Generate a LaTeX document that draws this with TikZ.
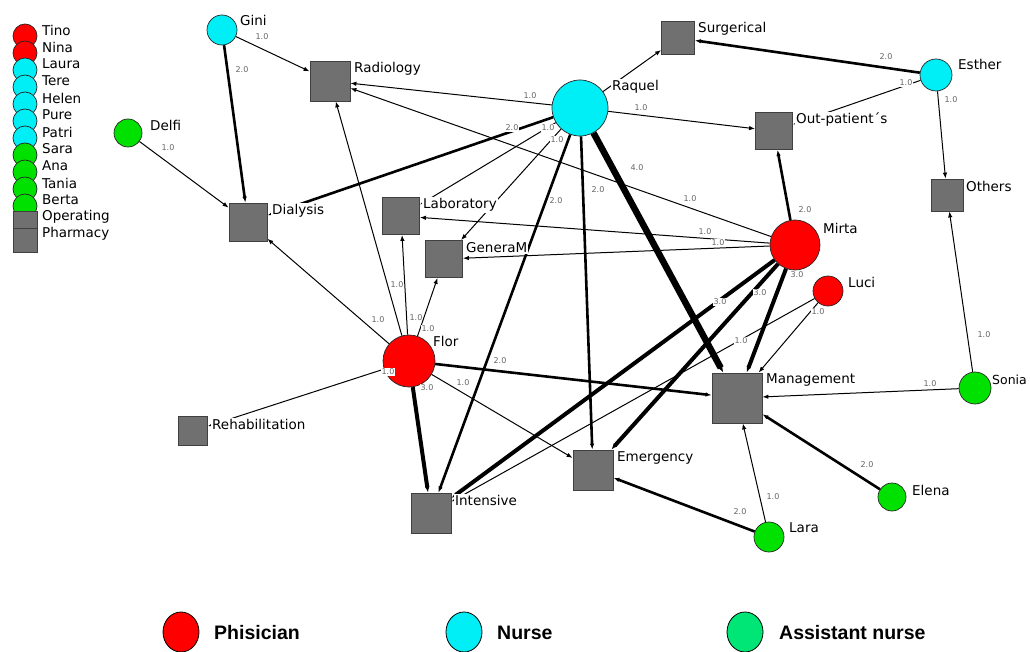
\documentclass[tikz,border=0pt]{standalone}
\usepackage{fontspec}
\setmainfont{DejaVu Sans}
\newfontfamily\keyfont{Liberation Sans}
\usetikzlibrary{arrows.meta,shapes.geometric}

\definecolor{physred}{RGB}{255,0,0}
\definecolor{nursecyan}{RGB}{0,238,245}
\definecolor{auxgreen}{RGB}{0,225,0}
\definecolor{keygreen}{RGB}{0,230,118}
\definecolor{unitgray}{RGB}{112,112,112}

\tikzset{
  person/.style={circle,draw=black!85,line width=0.7pt,inner sep=0pt,minimum size=#1pt},
  phys/.style={person=#1,fill=physred},
  nurse/.style={person=#1,fill=nursecyan},
  aux/.style={person=#1,fill=auxgreen},
  unit/.style={rectangle,draw=black!75,line width=0.8pt,fill=unitgray,inner sep=0pt,minimum size=#1pt},
  lbl/.style={anchor=west,fill=white,inner sep=1pt,font=\fontsize{13.5}{15}\selectfont},
  leglbl/.style={anchor=west,inner sep=0pt,font=\fontsize{13.5}{15}\selectfont},
  keylbl/.style={anchor=west,inner sep=0pt,font=\keyfont\bfseries\fontsize{19.5}{21}\selectfont},
  wt/.style={fill=white,inner sep=0.6pt,text=black!60,font=\fontsize{8}{9}\selectfont},
  wone/.style={->,line width=1pt},
  wtwo/.style={->,line width=2.6pt},
  wthree/.style={->,line width=4pt},
  wfour/.style={->,line width=6.5pt}
}

\begin{document}
\begin{tikzpicture}[x=1pt,y=-1pt,>={Latex[length=6pt,width=4.5pt]}]
  \useasboundingbox (0,0) rectangle (1030,652);

  % staff
  \node[nurse=30] (gini)   at (222,30)  {};
  \node[aux=28]   (delfi)  at (128,133) {};
  \node[nurse=56] (raquel) at (580,108) {};
  \node[nurse=32] (esther) at (936,75)  {};
  \node[phys=50]  (mirta)  at (795,245) {};
  \node[phys=30]  (luci)   at (828,291) {};
  \node[phys=52]  (flor)   at (409,361) {};
  \node[aux=32]   (sonia)  at (975,388) {};
  \node[aux=28]   (elena)  at (892,497) {};
  \node[aux=30]   (lara)   at (769,537) {};

  % services
  \node[unit=40] (radio)  at (330,81)  {};
  \node[unit=33] (surg)   at (678,38)  {};
  \node[unit=37] (outp)   at (774,131) {};
  \node[unit=32] (others) at (947,195) {};
  \node[unit=38] (dial)   at (248,222) {};
  \node[unit=37] (lab)    at (401,216) {};
  \node[unit=37] (genm)   at (444,259) {};
  \node[unit=29] (rehab)  at (193,431) {};
  \node[unit=40] (inten)  at (431,513) {};
  \node[unit=40] (emerg)  at (593,470) {};
  \node[unit=50] (manag)  at (737,398) {};

  % ties
  \draw[wone]   (gini) -- (radio) node[wt] at (262,37) {1.0};
  \draw[wtwo]   (gini) -- (dial) node[wt] at (242,70) {2.0};
  \draw[wone]   (delfi) -- (dial) node[wt] at (168,148) {1.0};
  \draw[wone]   (raquel) -- (radio) node[wt] at (530,96) {1.0};
  \draw[wtwo]   (raquel) -- (dial) node[wt] at (512,128) {2.0};
  \draw[wone]   (raquel) -- (lab) node[wt] at (548,128) {1.0};
  \draw[wone]   (raquel) -- (genm) node[wt] at (557,140) {1.0};
  \draw[wtwo]   (raquel) -- (inten) node[wt] at (556,201) {2.0};
  \draw[wtwo]   (raquel) -- (emerg) node[wt] at (598,190) {2.0};
  \draw[wfour]  (raquel) -- (manag) node[wt] at (637,168) {4.0};
  \draw[wone]   (raquel) -- (outp) node[wt] at (641,108) {1.0};
  \draw[wone]   (raquel) -- (surg);
  \draw[wtwo]   (esther) -- (surg) node[wt] at (886,57) {2.0};
  \draw[wone]   (esther) -- (outp) node[wt] at (906,83) {1.0};
  \draw[wone]   (esther) -- (others) node[wt] at (951,100) {1.0};
  \draw[wone]   (sonia) -- (others) node[wt] at (984,335) {1.0};
  \draw[wone]   (sonia) -- (manag) node[wt] at (930,384) {1.0};
  \draw[wtwo]   (elena) -- (manag) node[wt] at (867,465) {2.0};
  \draw[wone]   (lara) -- (manag) node[wt] at (773,497) {1.0};
  \draw[wtwo]   (lara) -- (emerg) node[wt] at (740,512) {2.0};
  \draw[wone]   (mirta) -- (radio) node[wt] at (690,199) {1.0};
  \draw[wtwo]   (mirta) -- (outp) node[wt] at (805,210) {2.0};
  \draw[wone]   (mirta) -- (lab) node[wt] at (705,232) {1.0};
  \draw[wone]   (mirta) -- (genm) node[wt] at (718,243) {1.0};
  \draw[wthree] (mirta) -- (inten) node[wt] at (720,302) {3.0};
  \draw[wthree] (mirta) -- (emerg) node[wt] at (760,293) {3.0};
  \draw[wthree] (mirta) -- (manag) node[wt] at (797,275) {3.0};
  \draw[wone]   (luci) -- (inten) node[wt] at (741,341) {1.0};
  \draw[wone]   (luci) -- (manag) node[wt] at (818,312) {1.0};
  \draw[wone]   (flor) -- (dial) node[wt] at (378,320) {1.0};
  \draw[wone]   (flor) -- (radio) node[wt] at (397,285) {1.0};
  \draw[wone]   (flor) -- (lab) node[wt] at (416,318) {1.0};
  \draw[wone]   (flor) -- (genm) node[wt] at (428,329) {1.0};
  \draw[wone]   (flor) -- (rehab) node[wt] at (388,372) {1.0};
  \draw[wthree] (flor) -- (inten) node[wt] at (427,388) {3.0};
  \draw[wtwo]   (flor) -- (manag) node[wt] at (500,361) {2.0};
  \draw[wone]   (flor) -- (emerg) node[wt] at (463,383) {1.0};

  % names
  \node[lbl] (gini-t)   at (239,20)  {Gini};
  \node[lbl] (delfi-t)  at (149,125) {Delfi};
  \node[lbl] (raquel-t) at (611,87)  {Raquel};
  \node[lbl] (esther-t) at (957,64)  {Esther};
  \node[lbl] (mirta-t)  at (822,228) {Mirta};
  \node[lbl] (luci-t)   at (847,282) {Luci};
  \node[lbl] (flor-t)   at (432,341) {Flor};
  \node[lbl,inner sep=0pt,font=\fontsize{12.5}{14}\selectfont] (sonia-t) at (992,380) {Sonia};
  \node[lbl] (elena-t)  at (911,490) {Elena};
  \node[lbl] (lara-t)   at (788,528) {Lara};
  \node[lbl] (radio-t)  at (353,69)  {Radiology};
  \node[lbl] (surg-t)   at (697,29)  {Surgerical};
  \node[lbl] (outp-t)   at (795,120) {Out-patient´s};
  \node[lbl] (others-t) at (965,186) {Others};
  \node[lbl] (dial-t)   at (271,211) {Dialysis};
  \node[lbl] (lab-t)    at (422,205) {Laboratory};
  \node[lbl] (genm-t)   at (465,248) {GeneraM};
  \node[lbl] (rehab-t)  at (211,424) {Rehabilitation};
  \node[lbl] (inten-t)  at (454,500) {Intensive};
  \node[lbl] (emerg-t)  at (616,458) {Emergency};
  \node[lbl] (manag-t)  at (765,380) {Management};

  % list on the left
  \foreach \nm/\cl [count=\i from 0] in {Tino/physred,Nina/physred,Laura/nursecyan,
      Tere/nursecyan,Helen/nursecyan,Pure/nursecyan,Patri/nursecyan,
      Sara/auxgreen,Ana/auxgreen,Tania/auxgreen,Berta/auxgreen}
  {
    \node[person=24,fill=\cl] (leg-\i) at (25,{36+17*\i}) {};
    \node[leglbl] (leg-\i-t) at (42,{30+17*\i}) {\nm};
  }
  \foreach \nm [count=\i from 11] in {Operating,Pharmacy}
  {
    \node[unit=24] (leg-\i) at (25,{36+17*\i}) {};
    \node[leglbl] (leg-\i-t) at (42,{30+17*\i}) {\nm};
  }

  % key at the bottom
  \node[ellipse,draw,line width=0.8pt,fill=physred,minimum width=36pt,minimum height=40pt] (key-phys) at (181,632) {};
  \node[keylbl] (key-phys-t) at (214,633) {Phisician};
  \node[ellipse,draw,line width=0.8pt,fill=nursecyan,minimum width=36pt,minimum height=40pt] (key-nurse) at (464,632) {};
  \node[keylbl] (key-nurse-t) at (497,633) {Nurse};
  \node[ellipse,draw,line width=0.8pt,fill=keygreen,minimum width=36pt,minimum height=40pt] (key-aux) at (745,632) {};
  \node[keylbl] (key-aux-t) at (779,633) {Assistant nurse};
\end{tikzpicture}
\end{document}
